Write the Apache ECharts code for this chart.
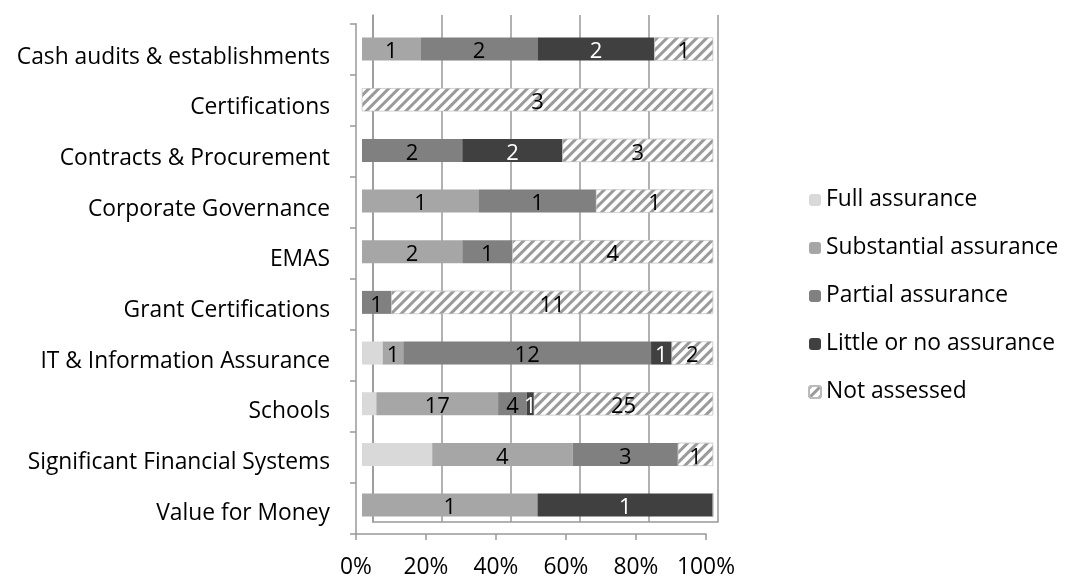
<!DOCTYPE html>
<html><head><meta charset="utf-8">
<script src="https://cdn.jsdelivr.net/npm/echarts@6/dist/echarts.min.js"></script>
<style>html,body{margin:0;padding:0;background:#fff}#c{width:1067px;height:579px}</style>
</head><body><div id="c"></div>
<script>
const categories = ["Cash audits & establishments","Certifications","Contracts & Procurement","Corporate Governance","EMAS","Grant Certifications","IT & Information Assurance","Schools","Significant Financial Systems","Value for Money"];
const fullAssurance        = [0,0,0,0,0,0,1,2,2,0];
const substantialAssurance = [1,0,0,1,2,0,1,17,4,1];
const partialAssurance     = [2,0,2,1,1,1,12,4,3,0];
const littleAssurance      = [2,0,2,0,0,0,1,1,0,1];
const notAssessed          = [1,3,3,1,4,11,2,25,1,0];
const xTicks = [0,20,40,60,80,100];

const seriesDefs = [
  {name:'Full assurance', data: fullAssurance, color:'#d9d9d9', label:false, lc:'#000'},
  {name:'Substantial assurance', data: substantialAssurance, color:'#a6a6a6', label:true, lc:'#000'},
  {name:'Partial assurance', data: partialAssurance, color:'#808080', label:true, lc:'#000'},
  {name:'Little or no assurance', data: littleAssurance, color:'#404040', label:true, lc:'#fff'},
  {name:'Not assessed', data: notAssessed, color:'#ffffff', label:true, lc:'#000', decal:true}
];
const totals = categories.map((c,i)=>seriesDefs.reduce((s,d)=>s+d.data[i],0));
const FONT = 'Open Sans';
const FS = 22.8;

const series = seriesDefs.map(d=>({
  name: d.name, type:'bar', stack:'t', xAxisIndex:2, yAxisIndex:2,
  barWidth: 23,
  data: d.data.map((v,i)=>({value: v/totals[i]*100, raw: v})),
  itemStyle: Object.assign({color: d.color, borderColor: d.decal ? '#bbb' : d.color, borderWidth: d.decal?0.5:0},
    d.decal ? {decal:{symbol:'rect', color:'#9a9a9a', backgroundColor:'#ffffff', dashArrayX:[1,0], dashArrayY:[3,4], rotation: -Math.PI/4, symbolSize:1}} : {}),
  label: {show: d.label, position:'inside', color: d.lc, fontFamily: FONT, fontSize: 22, offset:[0,3],
    formatter: p => p.data.raw ? String(p.data.raw) : ''},
  emphasis:{disabled:true}
}));

const chart = echarts.init(document.getElementById('c'), null, {renderer:'canvas'});
chart.setOption({
  animation:false,
  textStyle:{fontFamily:FONT},
  legend:{
    orient:'vertical', left:803, top:182, itemGap:22, itemWidth:12, itemHeight:12,
    textStyle:{fontFamily:FONT, fontSize:FS, color:'#000', lineHeight:26},
    data: seriesDefs.map(d=>d.name)
  },
  grid:[
    {left:373, right:349, top:15, bottom:57},   // back wall
    {left:356, right:361, top:23.7, bottom:44}, // front floor axis
    {left:362, right:354, top:23.7, bottom:48.6}, // bars
    {left:356, right:361, top:31.7, bottom:40.6}  // category labels
  ],
  xAxis:[
    {gridIndex:0, type:'value', min:0, max:100, interval:20, axisLabel:{show:false}, axisTick:{show:false},
      axisLine:{show:true, lineStyle:{color:'#999', width:1.5}}, splitLine:{show:true, lineStyle:{color:'#999', width:1.5}}},
    {gridIndex:1, type:'value', min:0, max:100, interval:20,
      axisLabel:{fontFamily:FONT, fontSize:FS, color:'#000', margin:22, formatter: v=> xTicks.includes(v)? v+'%':''},
      axisTick:{show:true, length:6, lineStyle:{color:'#999', width:1.5}},
      axisLine:{show:true, lineStyle:{color:'#999', width:1.5}}, splitLine:{show:false}},
    {gridIndex:2, type:'value', min:0, max:100, show:false},
    {gridIndex:3, type:'value', min:0, max:100, show:false}
  ],
  yAxis:[
    {gridIndex:0, type:'category', data:categories, inverse:true, axisLabel:{show:false}, axisTick:{show:false},
      axisLine:{show:true, lineStyle:{color:'#999', width:1.5}}},
    {gridIndex:1, type:'category', data:categories, inverse:true, axisLabel:{show:false},
      axisTick:{show:true, length:6, lineStyle:{color:'#999', width:1.5}},
      axisLine:{show:true, lineStyle:{color:'#999', width:1.5}}},
    {gridIndex:2, type:'category', data:categories, inverse:true, show:false},
    {gridIndex:3, type:'category', data:categories, inverse:true,
      axisLabel:{fontFamily:FONT, fontSize:FS, color:'#000', margin:26},
      axisTick:{show:false}, axisLine:{show:false}, splitLine:{show:false}}
  ],
  series: series
});
</script></body></html>
